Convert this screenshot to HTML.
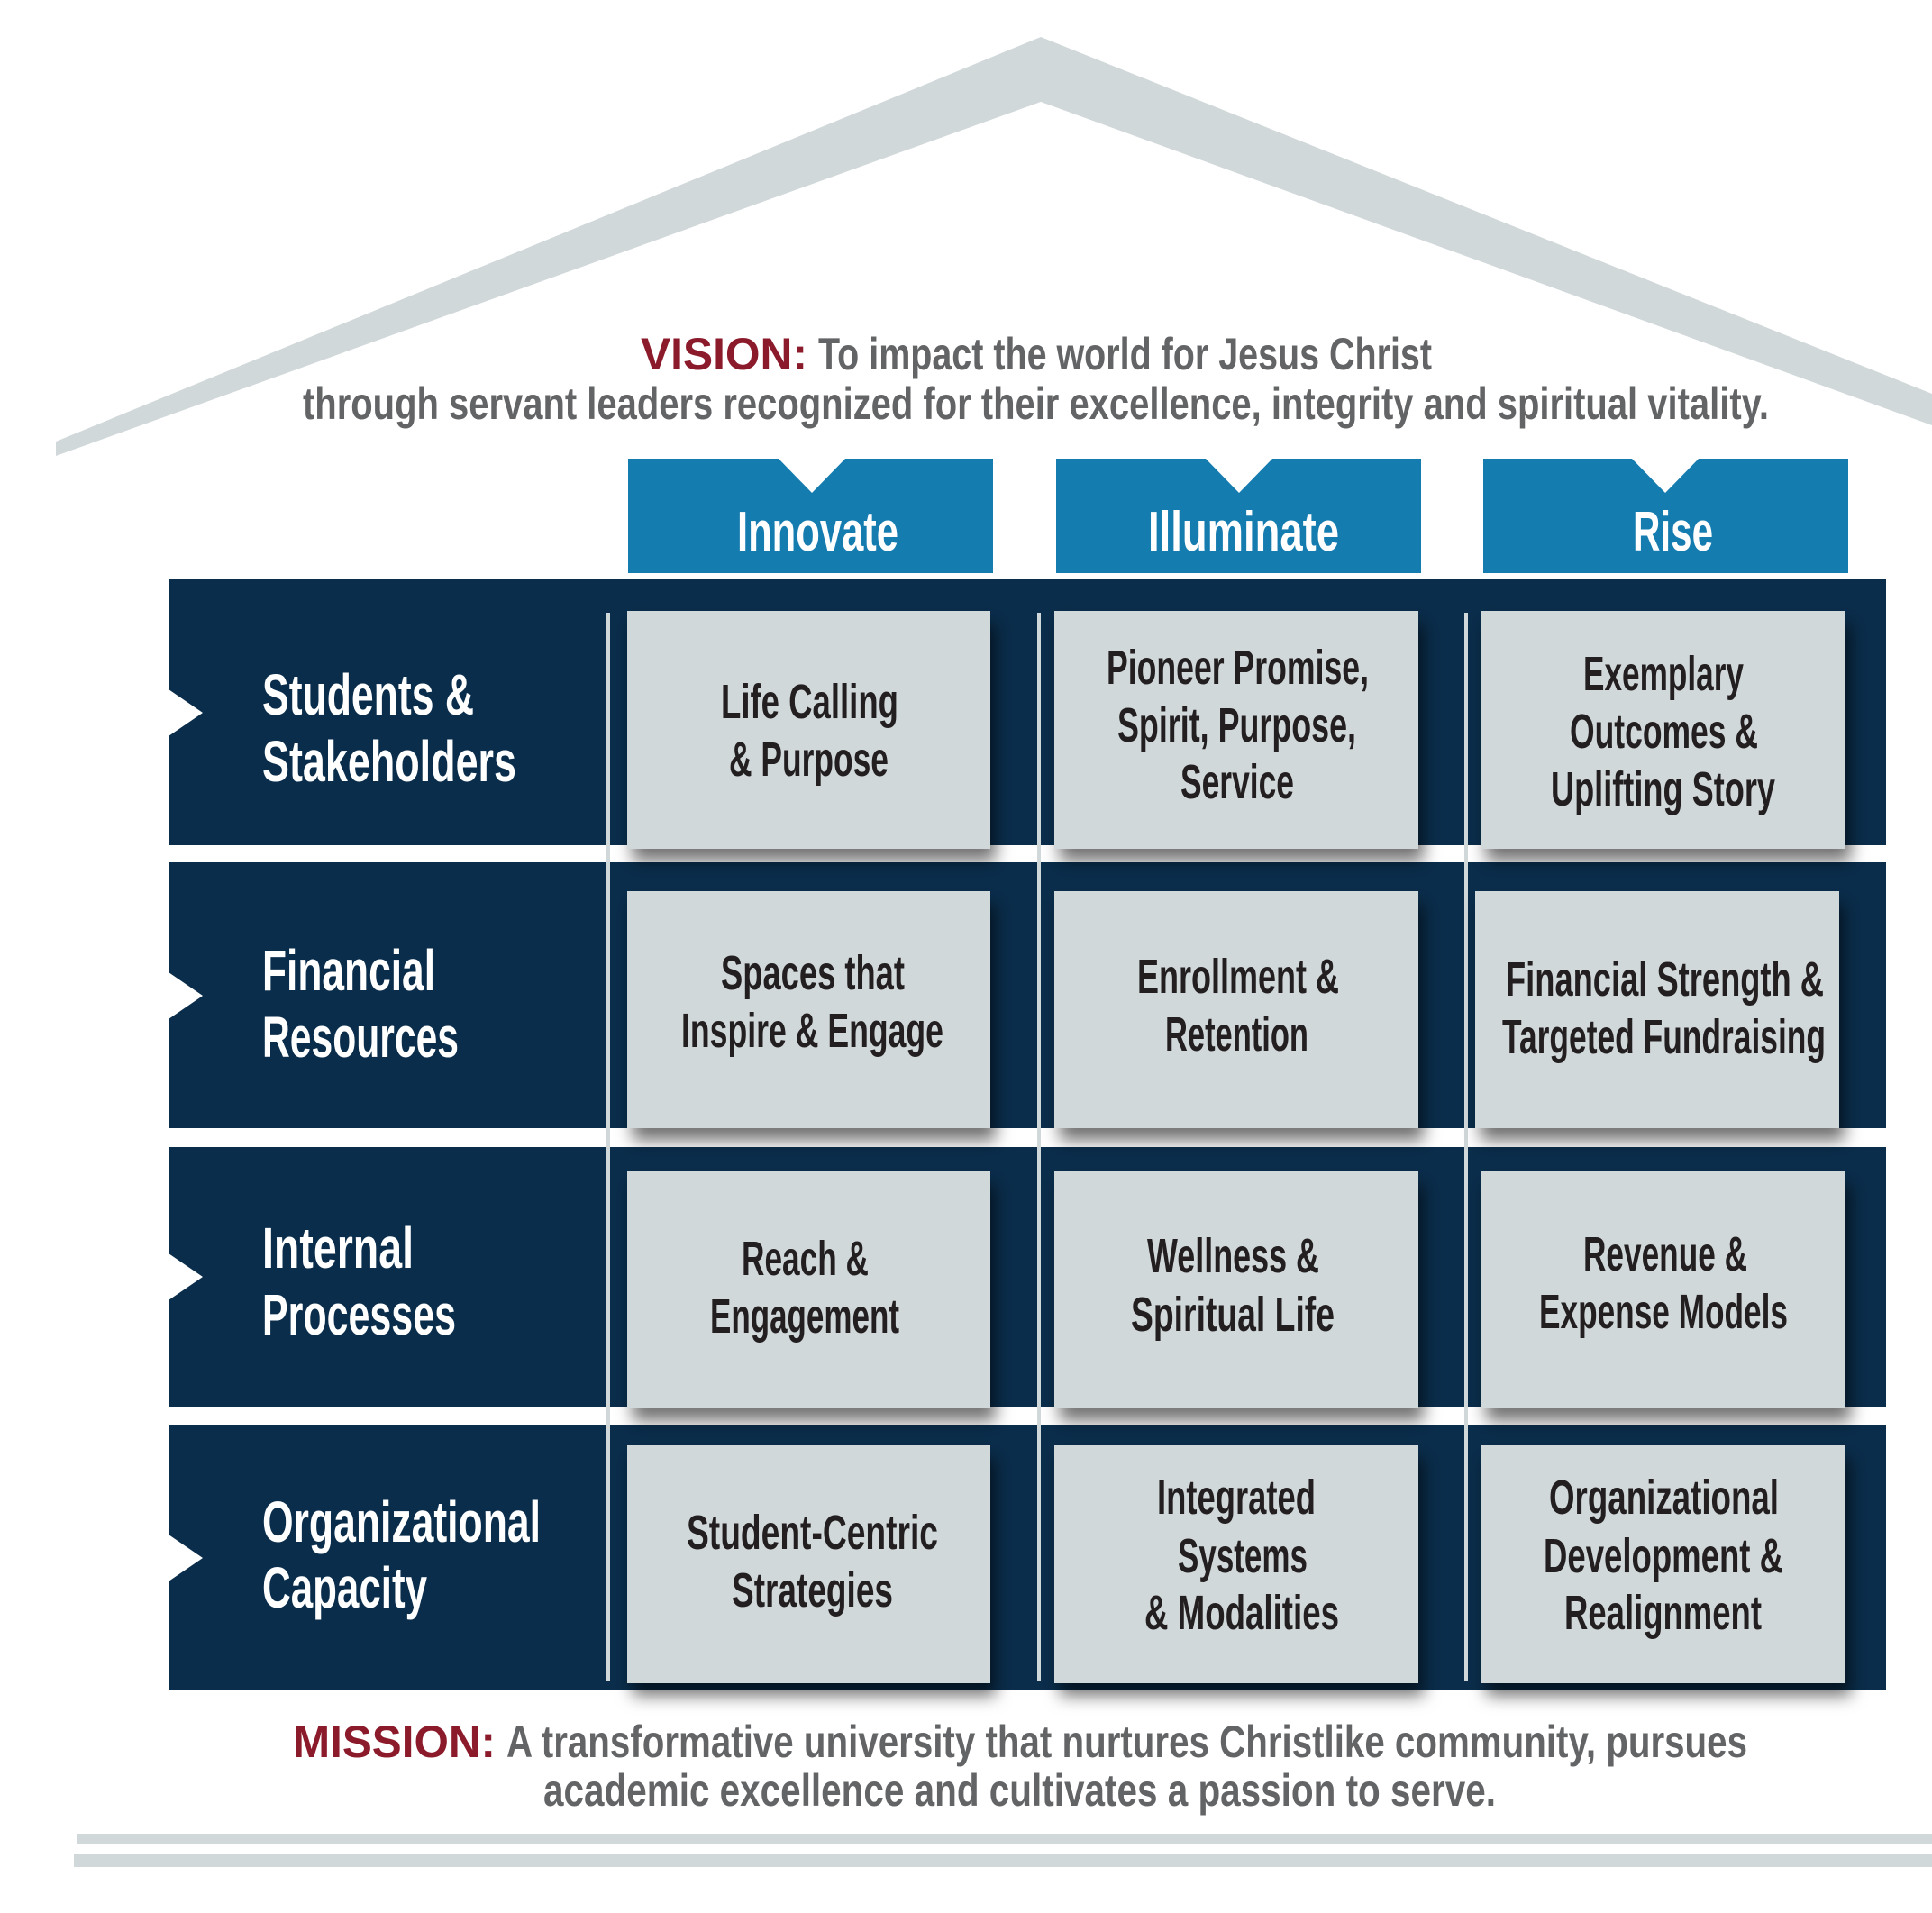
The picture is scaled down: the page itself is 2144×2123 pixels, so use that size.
<!DOCTYPE html>
<html><head><meta charset="utf-8"><style>html,body{margin:0;padding:0;background:#fff}svg{display:block}text{font-family:"Liberation Sans",sans-serif}</style></head>
<body>
<svg width="2144" height="2123" viewBox="0 0 2144 2123" xmlns="http://www.w3.org/2000/svg">
<defs>
<filter id="sh" x="-10%" y="-10%" width="130%" height="130%">
<feDropShadow dx="6" dy="14" stdDeviation="9" flood-color="#000" flood-opacity="0.55"/>
</filter>
</defs>
<polygon points="1155,41 2144,437 2144,472 1155,113 62,506 62,490" fill="#d1d8da"/>
<g font-weight="bold">
<text x="711" y="410" font-size="50" fill="#8b1a2b" textLength="185" lengthAdjust="spacingAndGlyphs">VISION:</text>
<text x="908" y="410" font-size="50" fill="#636466" textLength="681" lengthAdjust="spacingAndGlyphs">To impact the world for Jesus Christ</text>
<text x="336" y="465" font-size="50" fill="#636466" textLength="1627" lengthAdjust="spacingAndGlyphs">through servant leaders recognized for their excellence, integrity and spiritual vitality.</text>
</g>
<g fill="#157cb0">
<polygon points="697,509 864,509 901,547 938,509 1102,509 1102,636 697,636"/>
<polygon points="1172,509 1338,509 1375,547 1412,509 1577,509 1577,636 1172,636"/>
<polygon points="1646,509 1811,509 1848,547 1885,509 2051,509 2051,636 1646,636"/>
</g>
<g fill="#fff" font-size="62" font-weight="bold">
<text x="818" y="611" textLength="179" lengthAdjust="spacingAndGlyphs">Innovate</text>
<text x="1274" y="611" textLength="212" lengthAdjust="spacingAndGlyphs">Illuminate</text>
<text x="1812" y="611" textLength="89" lengthAdjust="spacingAndGlyphs">Rise</text>
</g>
<g fill="#0a2d4b">
<polygon points="187,643 2093,643 2093,938 187,938 187,817 225,791 187,765"/>
<polygon points="187,957 2093,957 2093,1252 187,1252 187,1131 225,1105 187,1079"/>
<polygon points="187,1273 2093,1273 2093,1561 187,1561 187,1443 225,1417 187,1391"/>
<polygon points="187,1581 2093,1581 2093,1876 187,1876 187,1755 225,1729 187,1703"/>
</g>
<g fill="#d1d8da">
<rect x="673" y="680" width="4" height="1185"/>
<rect x="1151" y="680" width="4" height="1185"/>
<rect x="1625" y="680" width="4" height="1185"/>
</g>
<g fill="#d1d8da" filter="url(#sh)">
<rect x="696" y="678" width="403" height="264"/>
<rect x="1170" y="678" width="404" height="264"/>
<rect x="1643" y="678" width="405" height="264"/>
<rect x="696" y="989" width="403" height="263"/>
<rect x="1170" y="989" width="404" height="263"/>
<rect x="1637" y="989" width="404" height="263"/>
<rect x="696" y="1300" width="403" height="263"/>
<rect x="1170" y="1300" width="404" height="263"/>
<rect x="1643" y="1300" width="405" height="263"/>
<rect x="696" y="1604" width="403" height="264"/>
<rect x="1170" y="1604" width="404" height="264"/>
<rect x="1643" y="1604" width="405" height="264"/>
</g>
<g fill="#fff" font-size="64" font-weight="bold">
<text x="291" y="793" textLength="235" lengthAdjust="spacingAndGlyphs">Students &amp;</text>
<text x="291" y="867" textLength="282" lengthAdjust="spacingAndGlyphs">Stakeholders</text>
<text x="291" y="1099" textLength="192" lengthAdjust="spacingAndGlyphs">Financial</text>
<text x="291" y="1173" textLength="218" lengthAdjust="spacingAndGlyphs">Resources</text>
<text x="291" y="1407" textLength="168" lengthAdjust="spacingAndGlyphs">Internal</text>
<text x="291" y="1481" textLength="215" lengthAdjust="spacingAndGlyphs">Processes</text>
<text x="291" y="1711" textLength="309" lengthAdjust="spacingAndGlyphs">Organizational</text>
<text x="291" y="1784" textLength="183" lengthAdjust="spacingAndGlyphs">Capacity</text>
</g>
<g fill="#231f20" font-size="54" font-weight="bold">
<text x="800" y="797" textLength="197" lengthAdjust="spacingAndGlyphs">Life Calling</text>
<text x="809" y="861" textLength="177" lengthAdjust="spacingAndGlyphs">&amp; Purpose</text>
<text x="1228" y="759" textLength="291" lengthAdjust="spacingAndGlyphs">Pioneer Promise,</text>
<text x="1240" y="823" textLength="265" lengthAdjust="spacingAndGlyphs">Spirit, Purpose,</text>
<text x="1310" y="886" textLength="126" lengthAdjust="spacingAndGlyphs">Service</text>
<text x="1757" y="766" textLength="178" lengthAdjust="spacingAndGlyphs">Exemplary</text>
<text x="1742" y="830" textLength="209" lengthAdjust="spacingAndGlyphs">Outcomes &amp;</text>
<text x="1721" y="894" textLength="249" lengthAdjust="spacingAndGlyphs">Uplifting Story</text>

<text x="800" y="1098" textLength="204" lengthAdjust="spacingAndGlyphs">Spaces that</text>
<text x="756" y="1162" textLength="291" lengthAdjust="spacingAndGlyphs">Inspire &amp; Engage</text>
<text x="1262" y="1102" textLength="224" lengthAdjust="spacingAndGlyphs">Enrollment &amp;</text>
<text x="1293" y="1166" textLength="159" lengthAdjust="spacingAndGlyphs">Retention</text>
<text x="1671" y="1105" textLength="353" lengthAdjust="spacingAndGlyphs">Financial Strength &amp;</text>
<text x="1667" y="1169" textLength="359" lengthAdjust="spacingAndGlyphs">Targeted Fundraising</text>

<text x="823" y="1415" textLength="141" lengthAdjust="spacingAndGlyphs">Reach &amp;</text>
<text x="788" y="1479" textLength="210" lengthAdjust="spacingAndGlyphs">Engagement</text>
<text x="1273" y="1412" textLength="191" lengthAdjust="spacingAndGlyphs">Wellness &amp;</text>
<text x="1255" y="1477" textLength="226" lengthAdjust="spacingAndGlyphs">Spiritual Life</text>
<text x="1757" y="1410" textLength="182" lengthAdjust="spacingAndGlyphs">Revenue &amp;</text>
<text x="1708" y="1474" textLength="276" lengthAdjust="spacingAndGlyphs">Expense Models</text>

<text x="762" y="1719" textLength="279" lengthAdjust="spacingAndGlyphs">Student-Centric</text>
<text x="812" y="1783" textLength="179" lengthAdjust="spacingAndGlyphs">Strategies</text>
<text x="1284" y="1680" textLength="176" lengthAdjust="spacingAndGlyphs">Integrated</text>
<text x="1307" y="1745" textLength="144" lengthAdjust="spacingAndGlyphs">Systems</text>
<text x="1270" y="1808" textLength="216" lengthAdjust="spacingAndGlyphs">&amp; Modalities</text>
<text x="1719" y="1680" textLength="255" lengthAdjust="spacingAndGlyphs">Organizational</text>
<text x="1713" y="1745" textLength="266" lengthAdjust="spacingAndGlyphs">Development &amp;</text>
<text x="1736" y="1808" textLength="219" lengthAdjust="spacingAndGlyphs">Realignment</text>
</g>
<g font-weight="bold" font-size="50">
<text x="325" y="1950" fill="#8b1a2b" textLength="225" lengthAdjust="spacingAndGlyphs">MISSION:</text>
<text x="562" y="1950" fill="#636466" textLength="1377" lengthAdjust="spacingAndGlyphs">A transformative university that nurtures Christlike community, pursues</text>
<text x="603" y="2004" fill="#636466" textLength="1057" lengthAdjust="spacingAndGlyphs">academic excellence and cultivates a passion to serve.</text>
</g>
<rect x="85" y="2035" width="2059" height="11" fill="#d1d8da"/>
<rect x="82" y="2058" width="2062" height="14" fill="#d1d8da"/>
</svg>
</body></html>
